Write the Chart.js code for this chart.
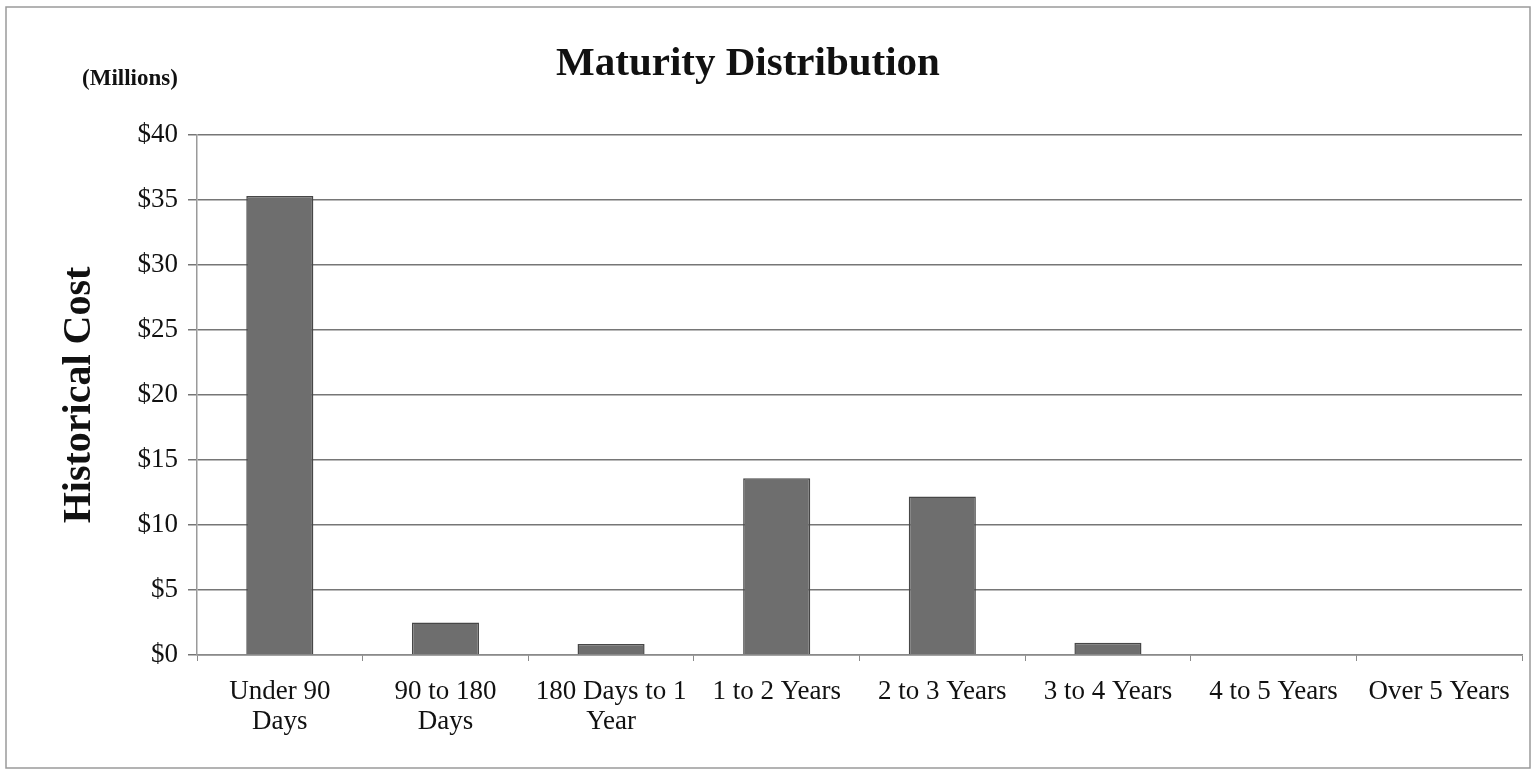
<!DOCTYPE html>
<html>
<head>
<meta charset="utf-8">
<script src="https://cdn.jsdelivr.net/npm/chart.js@4.4.1/dist/chart.umd.min.js"></script>
<style>
  html, body { margin: 0; padding: 0; background: #fff; }
  #wrap { width: 1533px; height: 770px; position: relative; }
</style>
</head>
<body>
<div id="wrap"><canvas id="chart" width="1533" height="770"></canvas></div>
<script>
var categories = [
  ['Under 90', 'Days'],
  ['90 to 180', 'Days'],
  ['180 Days to 1', 'Year'],
  '1 to 2 Years',
  '2 to 3 Years',
  '3 to 4 Years',
  '4 to 5 Years',
  'Over 5 Years'
];
var historicalCost = [35.3, 2.5, 0.85, 13.6, 12.2, 0.95, 0, 0];
var yTicks = [0, 5, 10, 15, 20, 25, 30, 35, 40];
var chartTitle = 'Maturity Distribution';
var unitNote = '(Millions)';

var serif = "'Liberation Serif', 'Times New Roman', serif";

// frame round the whole picture, the title and the "(Millions)" note
var framePlugin = {
  id: 'frame',
  beforeDraw: function (chart) {
    var ctx = chart.ctx;
    ctx.save();
    ctx.fillStyle = '#fff';
    ctx.fillRect(0, 0, chart.width, chart.height);
    ctx.strokeStyle = '#9a9a9a';
    ctx.lineWidth = 1.5;
    ctx.strokeRect(6, 7, 1524, 761);
    ctx.restore();
  },
  afterDraw: function (chart) {
    var ctx = chart.ctx;
    ctx.save();
    ctx.fillStyle = '#111';
    ctx.textAlign = 'center';
    ctx.textBaseline = 'middle';
    ctx.font = 'bold 41px ' + serif;
    ctx.fillText(chartTitle, 748, 64);
    ctx.font = 'bold 23px ' + serif;
    ctx.fillText(unitNote, 130, 79);
    ctx.restore();
  }
};

new Chart(document.getElementById('chart'), {
  type: 'bar',
  data: {
    labels: categories,
    datasets: [{
      label: 'Historical Cost',
      data: historicalCost,
      backgroundColor: '#6e6e6e',
      borderColor: '#474747',
      borderWidth: 1.5,
      barPercentage: 0.81,
      categoryPercentage: 0.5
    }]
  },
  options: {
    responsive: false,
    animation: false,
    devicePixelRatio: 1,
    layout: { padding: { left: 52, right: 11, top: 135, bottom: 10 } },
    plugins: {
      legend: { display: false },
      tooltip: { enabled: false },
      title: { display: false }
    },
    scales: {
      x: {
        grid: {
          drawOnChartArea: false,
          drawTicks: true,
          tickLength: 6,
          color: '#8a8a8a'
        },
        border: { display: true, color: '#8a8a8a', width: 1.5 },
        ticks: {
          color: '#111',
          padding: 16,
          maxRotation: 0,
          autoSkip: false,
          font: { family: serif, size: 27, lineHeight: 1.11 }
        },
        afterFit: function (scale) { scale.height = 105; }
      },
      y: {
        min: 0,
        max: 40,
        afterBuildTicks: function (scale) {
          scale.ticks = yTicks.map(function (v) { return { value: v }; });
        },
        grid: { color: '#767676', lineWidth: 1.5, tickLength: 9 },
        border: { display: true, color: '#9a9a9a', width: 1.5 },
        ticks: {
          color: '#111',
          padding: 10,
          font: { family: serif, size: 27 },
          callback: function (v) { return '$' + v; }
        },
        title: {
          display: true,
          text: 'Historical Cost',
          color: '#111',
          font: { family: serif, size: 40, weight: 'bold' }
        },
        afterFit: function (scale) { scale.width = 145; }
      }
    }
  },
  plugins: [framePlugin]
});
</script>
</body>
</html>
